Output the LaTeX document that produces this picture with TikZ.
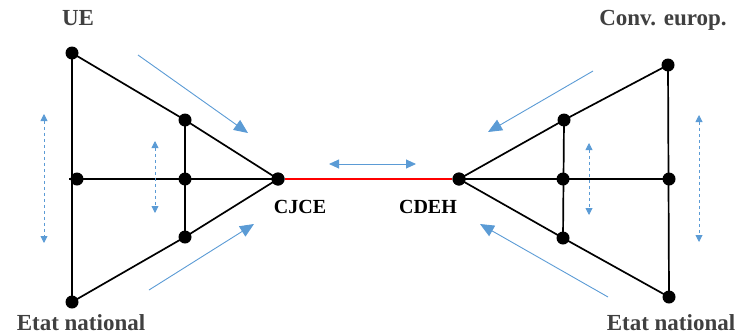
\documentclass[tikz,border=0pt]{standalone}
\usepackage{fontspec}
\setmainfont{Liberation Serif}
\usetikzlibrary{arrows.meta}
\definecolor{flowblue}{RGB}{91,155,213}
\definecolor{labgray}{RGB}{64,64,64}

\begin{document}
\begin{tikzpicture}[x=1pt, y=-1pt, >=Triangle,
    dot/.style={circle, fill=black, inner sep=0pt, minimum width=11pt, minimum height=13pt},
    edge/.style={black, line width=1.7pt},
    court/.style={red, line width=2pt},
    flow/.style={flowblue, line width=0.9pt, -{Triangle[length=14pt, width=12pt]}},
    swing/.style={flowblue, line width=0.9pt, dashed, {Triangle[length=7pt, width=7pt]}-{Triangle[length=7pt, width=7pt]}},
    biglab/.style={labgray, font=\fontsize{23}{23}\selectfont\bfseries, anchor=base},
    courtlab/.style={black, font=\fontsize{20}{20}\selectfont\bfseries, anchor=base}]
    \useasboundingbox (0,0) rectangle (738,335);
    % left triangle (UE / CJCE)
    \coordinate (lh) at (69,179);
    \node[dot] (ue) at (72,53) {};
    \node[dot] (lna) at (72,302) {};
    \node[dot] (lm) at (77,179) {};
    \node[dot] (lt) at (185,120) {};
    \node[dot] (lc) at (185,179) {};
    \node[dot] (lb) at (185,237) {};
    \node[dot] (cjce) at (278,179) {};
    \draw[edge] (ue.center) -- (lna.center);
    \draw[edge] (lt.center) -- (lb.center);
    \draw[edge] (lh) -- (cjce.center);
    \draw[edge] (ue.center) -- (lt.center) -- (cjce.center);
    \draw[edge] (lna.center) -- (lb.center) -- (cjce.center);
    % right triangle (Conv. europ. / CDEH)
    \node[dot] (ce) at (668,65) {};
    \node[dot] (rna) at (669,297) {};
    \node[dot] (rm) at (669,179) {};
    \node[dot] (rt) at (564,120) {};
    \node[dot] (rc) at (563,179) {};
    \node[dot] (rb) at (563,238) {};
    \node[dot] (cdeh) at (459,179) {};
    \draw[edge] (ce.center) -- (rna.center);
    \draw[edge] (rt.center) -- (rb.center);
    \draw[edge] (cdeh.center) -- (rm.center);
    \draw[edge] (ce.center) -- (rt.center) -- (cdeh.center);
    \draw[edge] (rna.center) -- (rb.center) -- (cdeh.center);
    % dialogue between the courts
    \draw[court] (cjce) -- (cdeh);
    \foreach \n in {cjce,cdeh} \node[dot] at (\n) {};
    \coordinate (da) at (329,164);
    \coordinate (db) at (416,164);
    \draw[flowblue, line width=0.9pt, {Triangle[length=10pt, width=9pt]}-{Triangle[length=10pt, width=9pt]}] (da) -- (db);
    % influences
    \coordinate (f1) at (138,55);   \coordinate (t1) at (248,133);
    \coordinate (f2) at (149,290);  \coordinate (t2) at (254,224);
    \coordinate (f3) at (593,71);   \coordinate (t3) at (488,132);
    \coordinate (f4) at (608,297);  \coordinate (t4) at (480,224);
    \foreach \a/\b in {f1/t1,f2/t2,f3/t3,f4/t4} \draw[flow] (\a) -- (\b);
    \coordinate (s1) at (44,114);   \coordinate (e1) at (44,243);
    \coordinate (s2) at (155,141);  \coordinate (e2) at (155,213);
    \coordinate (s3) at (589,143);  \coordinate (e3) at (589,215);
    \coordinate (s4) at (699,115);  \coordinate (e4) at (699,242);
    \foreach \a/\b in {s1/e1,s2/e2,s3/e3,s4/e4} \draw[swing] (\a) -- (\b);
    % labels
    \node[biglab] (uelab) at (78,25) {UE};
    \node[biglab] (celab) at (663,25) {Conv. europ.};
    \node[biglab] (lnalab) at (81,330) {Etat national};
    \node[biglab] (rnalab) at (671,330) {Etat national};
    \node[courtlab] (cjcelab) at (300,213) {CJCE};
    \node[courtlab] (cdehlab) at (428,213) {CDEH};
\end{tikzpicture}
\end{document}
